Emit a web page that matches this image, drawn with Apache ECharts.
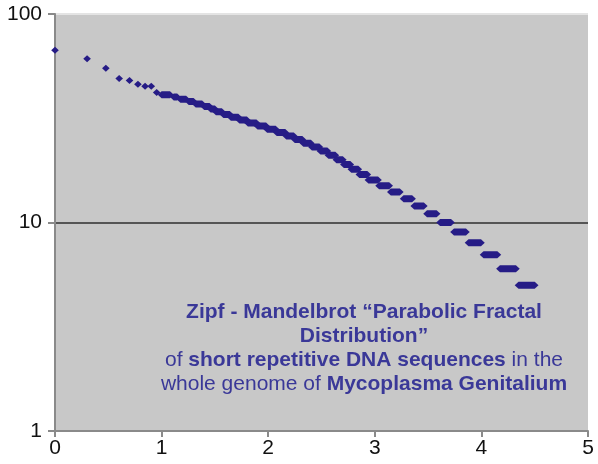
<!DOCTYPE html>
<html>
<head>
<meta charset="utf-8">
<script src="https://cdn.jsdelivr.net/npm/echarts@6/dist/echarts.min.js"></script>
<style>
html,body{margin:0;padding:0;background:#fff;}
#chart{width:598px;height:464px;}
</style>
</head>
<body>
<div id="chart"></div>
<script>
// Each entry: a run of ranks (log10 rank from runStart to runEnd) sharing one frequency
var freq     = [67, 61, 55, 49, 48, 46, 45, 45, 42, 41, 40, 39, 38, 37, 36, 35, 34, 33, 32, 31, 30, 29, 28, 27, 26, 25, 24, 23, 22, 21, 20, 19, 18, 17, 16, 15, 14, 13, 12, 11, 10, 9, 8, 7, 6, 5];
var runStart = [0, 0.301, 0.477, 0.602, 0.699, 0.778, 0.845, 0.903, 0.954, 1.0, 1.114, 1.176, 1.255, 1.32, 1.40, 1.46, 1.51, 1.58, 1.65, 1.73, 1.81, 1.90, 1.99, 2.08, 2.17, 2.25, 2.33, 2.41, 2.49, 2.565, 2.64, 2.71, 2.78, 2.855, 2.94, 3.04, 3.15, 3.27, 3.37, 3.49, 3.612, 3.743, 3.879, 4.02, 4.174, 4.348];
var runEnd   = [0, 0.301, 0.477, 0.602, 0.699, 0.778, 0.845, 0.903, 0.954, 1.079, 1.146, 1.230, 1.30, 1.38, 1.45, 1.50, 1.565, 1.64, 1.72, 1.80, 1.89, 1.98, 2.07, 2.16, 2.24, 2.32, 2.40, 2.48, 2.555, 2.63, 2.70, 2.77, 2.845, 2.93, 3.03, 3.135, 3.235, 3.35, 3.46, 3.58, 3.715, 3.855, 3.996, 4.15, 4.324, 4.50];
var xTicks = [0, 1, 2, 3, 4, 5];
var yTicks = [1, 10, 100];

var data = [];
for (var i = 0; i < freq.length; i++) data.push([runStart[i], runEnd[i], freq[i]]);

var markColor = '#261c86';
function renderItem(params, api) {
  var p0 = api.coord([api.value(0), api.value(2)]);
  var p1 = api.coord([api.value(1), api.value(2)]);
  var hw = 3.8, hh = 3.5;
  return {
    type: 'polygon',
    shape: { points: [[p0[0]-hw, p0[1]], [p0[0], p0[1]-hh], [p1[0], p1[1]-hh], [p1[0]+hw, p1[1]], [p1[0], p1[1]+hh], [p0[0], p0[1]+hh]] },
    style: { fill: markColor }
  };
}

var chart = echarts.init(document.getElementById('chart'), null, {renderer: 'canvas'});
var font = '"Liberation Sans", Arial, Helvetica, sans-serif';
var txtColor = '#3a3898';
chart.setOption({
  animation: false,
  grid: { left: 55, right: 10, top: 14, bottom: 33, show: true, backgroundColor: '#c8c8c8', borderWidth: 0 },
  xAxis: {
    type: 'value', min: xTicks[0], max: xTicks[xTicks.length-1], interval: 1,
    axisLine: { show: true, lineStyle: { color: '#8a8a8a', width: 2 } },
    axisTick: { show: true, length: 6, lineStyle: { color: '#8a8a8a', width: 2 } },
    axisLabel: { color: '#111', fontSize: 21, fontFamily: font, margin: 7 },
    splitLine: { show: false }
  },
  yAxis: {
    type: 'log', logBase: 10, min: yTicks[0], max: yTicks[yTicks.length-1],
    axisLine: { show: true, lineStyle: { color: '#8a8a8a', width: 2 } },
    axisTick: { show: true, length: 7, lineStyle: { color: '#8a8a8a', width: 2 } },
    axisLabel: { color: '#111', fontSize: 21, fontFamily: font, margin: 13 },
    splitLine: { show: true, lineStyle: { color: ['#8a8a8a', '#555555', '#e4e4e4'], width: 2 } }
  },
  series: [{
    type: 'custom',
    renderItem: renderItem,
    encode: { x: [0, 1], y: 2 },
    data: data
  }],
  graphic: [{
    type: 'text',
    x: 0, y: 0,
    style: {
      x: 364, y: 300,
      align: 'center',
      verticalAlign: 'top',
      text: '{b|Zipf - Mandelbrot \u201CParabolic Fractal}\n{b|Distribution\u201D}\n{n|of }{b|short repetitive DNA sequences}{n| in the}\n{n|whole genome of }{b|Mycoplasma Genitalium}',
      fill: txtColor,
      font: '21px ' + font,
      lineHeight: 24,
      rich: {
        b: { fontWeight: 'bold', fontSize: 21, fontFamily: font, fill: txtColor, lineHeight: 24 },
        n: { fontWeight: 'normal', fontSize: 21, fontFamily: font, fill: txtColor, lineHeight: 24 }
      }
    }
  }]
});
</script>
</body>
</html>
